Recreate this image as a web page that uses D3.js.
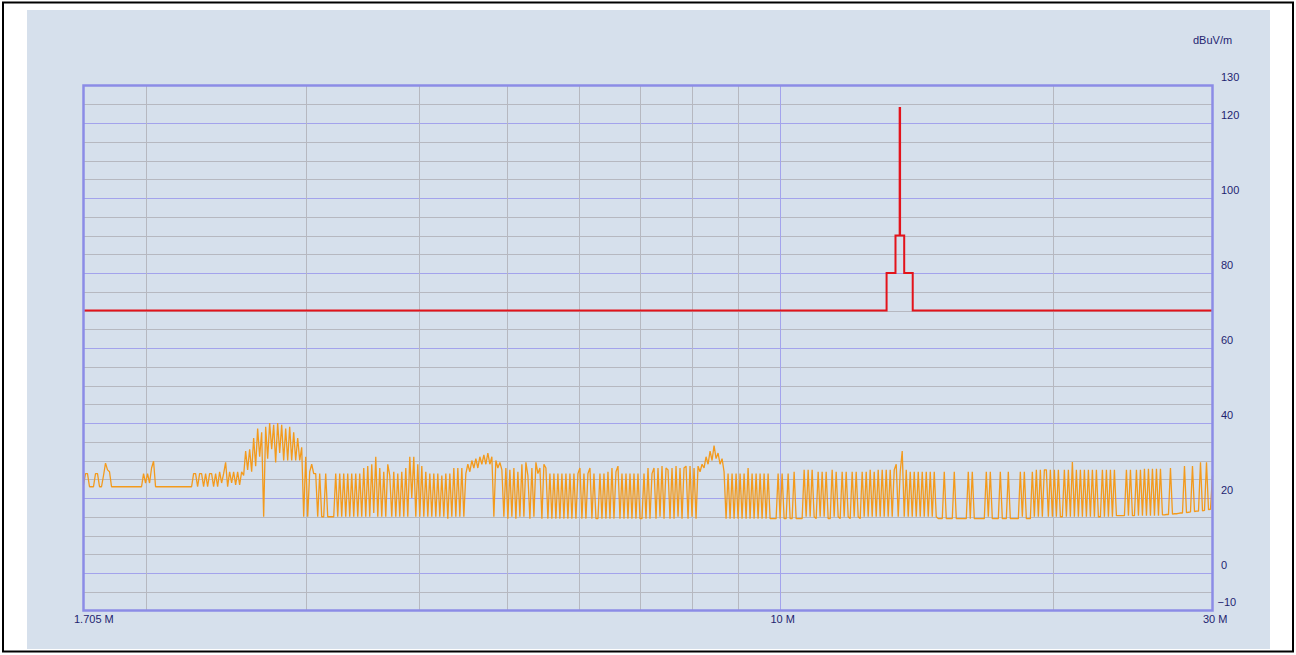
<!DOCTYPE html>
<head>
  <meta charset="utf-8">
  <script src="https://d3js.org/d3.v7.min.js"></script>
  <style>
    body {
      margin: 0;
      background: #fff;
    }

    text {
      font-family: "Liberation Sans", Arial, sans-serif;
      font-size: 11px;
      fill: #1f2470;
    }
  </style>
</head>

<body>
  <div id="chart"></div>

  <script>
    var width = 1296;
    var height = 655;

    // axis labels
    var unitLabel = "dBuV/m";
    var yTicks = [130, 120, 100, 80, 60, 40, 20, 0, -10];
    var xTicks = [1.705, 10, 30];
    var vGridGray = [2, 3, 4, 5, 6, 7, 8, 9, 20];
    var vGridBlue = [10];

    // limit line (MHz, dBuV/m)
    var limitMHz = [1.705, 13.11, 13.11, 13.41, 13.41, 13.553, 13.553, 13.567, 13.567, 13.71, 13.71, 14.01, 14.01, 30];
    var limitDb = [70, 70, 80, 80, 90, 90, 124, 124, 90, 90, 80, 80, 70, 70];

    // measured trace, one value per log-spaced sweep point 1.705 .. 30 MHz
    var traceDb = [
      23.5, 26.5, 26.5, 23, 23, 23, 26.5, 26.5, 23, 23,
      26, 29.3, 27.5, 27, 23, 23, 23, 23, 23, 23,
      23, 23, 23, 23, 23, 23, 23, 23, 23, 23,
      26.5, 24, 26.5, 24, 28, 29.8, 23, 23, 23, 23,
      23, 23, 23, 23, 23, 23, 23, 23, 23, 23,
      23, 23, 23, 23, 23, 26.5, 26.5, 23, 26.5, 26.5,
      23, 26.5, 23, 26.5, 26.5, 23, 26.5, 23, 27, 24,
      26.5, 29.5, 23, 27, 24, 27, 23.5, 27, 23.5, 27,
      26, 32.5, 27.5, 33, 27, 36, 28.5, 38.5, 31, 37.5,
      15, 39, 30.5, 40, 33, 39.5, 29.5, 40, 32, 39.5,
      30, 38.5, 30, 39, 30, 37.5, 30, 36, 30, 33.5,
      15, 31, 15, 27, 29, 26.5, 26.5, 15, 26.5, 15,
      15, 26.5, 15, 15, 15, 15, 26.5, 15, 26.5, 15,
      26.5, 15, 26.5, 15, 26.5, 15, 26.5, 15, 26.5, 15,
      28, 15, 28.5, 15, 29, 16, 31, 15, 28, 15,
      27, 15, 29, 26, 15, 27, 15, 26.5, 15, 27,
      15, 28, 15, 31, 20, 31, 15, 29, 15, 28.5,
      15, 27, 15, 26.5, 15, 26.5, 15, 26.5, 15, 26,
      15, 26.5, 14.5, 26.5, 15, 28, 15, 28, 15, 28,
      15, 26.5, 29, 27, 30, 28, 30.5, 28, 31, 29,
      31.5, 29, 32, 29, 31, 15, 30, 28, 29.5, 27.5,
      15, 28, 14.5, 27.5, 15, 28, 14.5, 27, 15, 29,
      15, 29.5, 26, 14.5, 28, 15, 29.5, 26.5, 28, 14.5,
      29, 28, 14.5, 26.5, 14.5, 26.5, 14.5, 26.5, 14.5, 26.5,
      14.5, 26.5, 14.5, 26.5, 14.5, 26.5, 14.5, 26.5, 28, 14.5,
      26.5, 14.5, 26.5, 28, 14.5, 26.5, 14.5, 14.5, 26.5, 14.5,
      26.5, 14.5, 27, 14.5, 28, 14.5, 27, 28.5, 14.5, 26.5,
      14.5, 26.5, 14.5, 26.5, 14.5, 26.5, 14.5, 26.5, 14.5, 14.5,
      26.5, 14.5, 28, 14.5, 26.5, 28, 14.5, 28, 15, 28.5,
      14.5, 28, 27.5, 14.5, 28, 14.5, 28.5, 15, 28, 14.5,
      28, 28.5, 14.5, 28.5, 15, 28, 14.5, 28.5, 27, 29,
      28, 31, 29, 32.5, 30, 34, 30.5, 32, 29, 30.5,
      27, 14.5, 26.5, 14.5, 26.5, 14.5, 26.5, 14.5, 26.5, 14.5,
      26.5, 14.5, 28, 14.5, 26.5, 14.5, 26.5, 14.5, 26.5, 14.5,
      26.5, 14.5, 26.5, 14.5, 14.5, 14.5, 14.5, 26.5, 14.5, 26.5,
      14.5, 14.5, 26.5, 14.5, 14.5, 27, 14.5, 14.5, 14.5, 14.5,
      27.5, 15, 27.5, 15, 27.5, 15, 14.5, 27, 15, 27,
      15, 27, 14.5, 14.5, 27.5, 15, 27, 15, 14.5, 27,
      15, 27, 15, 14.5, 27, 15, 27, 15, 14.5, 27,
      15, 27, 15, 27.5, 15, 27, 15, 27.5, 15, 27.5,
      15, 27.5, 15, 27.5, 15, 27.5, 29, 15, 27, 32.5,
      15, 27.5, 15, 27, 15, 27, 15, 27, 15, 27,
      15, 27, 15, 27, 15, 27, 15, 14.5, 14.5, 14.5,
      27, 14.5, 14.5, 14.5, 14.5, 27, 14.5, 14.5, 14.5, 14.5,
      14.5, 14.5, 27, 14.5, 27, 14.5, 14.5, 14.5, 14.5, 14.5,
      14.5, 27, 15, 27, 14.5, 14.5, 14.5, 14.5, 27, 14.5,
      14.5, 14.5, 27, 14.5, 14.5, 14.5, 14.5, 14.5, 27, 15,
      27, 14.5, 14.5, 14.5, 27, 15, 27.5, 15, 27.5, 15,
      27.5, 27.5, 15, 27.5, 15, 27.5, 15, 27.5, 15, 15,
      27.5, 15, 27.5, 15, 29.6, 15, 27.5, 15, 27.5, 15,
      27.5, 15, 27.5, 15, 27.5, 15, 27.5, 15, 15, 27.5,
      15, 27.5, 15, 27.5, 15, 27.5, 15.3, 15.3, 15.3, 15.3,
      15.3, 27.5, 15.3, 27.5, 15.3, 15.3, 27.5, 15.3, 27.5, 15.3,
      27.8, 15.3, 27.8, 15.3, 27.8, 15.3, 27.8, 15.3, 27.8, 15.5,
      15.5, 15.6, 15.6, 28, 15.7, 15.8, 15.8, 15.9, 16, 16,
      28.5, 16.1, 16.2, 16.3, 28.5, 16.4, 16.5, 16.5, 29.5, 16.6,
      16.7, 29.5, 16.9, 17, 26
    ];

    var plot = { left: 83.5, right: 1212.5, top: 85.5, bottom: 610.5 };

    var x = d3.scaleLog().domain([1.705, 30]).range([plot.left, plot.right]);
    var y = d3.scaleLinear().domain([-10, 130]).range([plot.bottom, plot.top]);

    var svg = d3.select("#chart").append("svg")
      .attr("width", width)
      .attr("height", height);

    // outer frame and panel
    svg.append("rect")
      .attr("x", 3).attr("y", 2.5)
      .attr("width", 1290).attr("height", 649)
      .attr("fill", "#fff")
      .attr("stroke", "#000")
      .attr("stroke-width", 2);

    svg.append("rect")
      .attr("x", 27).attr("y", 10)
      .attr("width", 1243).attr("height", 639)
      .attr("fill", "#d6e0ec");

    // GRID
    var hGrid = d3.range(-5, 130, 5);
    svg.append("g").selectAll("line")
      .data(hGrid)
      .enter().append("line")
      .attr("x1", plot.left).attr("x2", plot.right)
      .attr("y1", function(d) { return Math.round(y(d)) + 0.5; })
      .attr("y2", function(d) { return Math.round(y(d)) + 0.5; })
      .attr("stroke", function(d) { return d % 20 == 0 ? "#a3a3ec" : "#b6b8c0"; })
      .attr("stroke-width", 1);

    svg.append("g").selectAll("line")
      .data(vGridGray.concat(vGridBlue))
      .enter().append("line")
      .attr("x1", function(d) { return Math.round(x(d)) + 0.5; })
      .attr("x2", function(d) { return Math.round(x(d)) + 0.5; })
      .attr("y1", plot.top).attr("y2", plot.bottom)
      .attr("stroke", function(d) { return vGridBlue.indexOf(d) != -1 ? "#a3a3ec" : "#b6b8c0"; })
      .attr("stroke-width", 1);

    // TRACE
    var n = traceDb.length;
    var traceMHz = traceDb.map(function(d, i) {
      return 1.705 * Math.pow(30 / 1.705, i / (n - 1));
    });

    var line = d3.line()
      .x(function(d) { return x(d[0]); })
      .y(function(d) { return y(d[1]); });

    svg.append("path")
      .datum(traceDb.map(function(d, i) { return [traceMHz[i], d]; }))
      .attr("d", line)
      .attr("fill", "none")
      .attr("stroke", "#f39a1c")
      .attr("stroke-width", 1.3)
      .attr("stroke-linejoin", "bevel");

    // LIMIT
    svg.append("path")
      .datum(limitDb.map(function(d, i) { return [limitMHz[i], d]; }))
      .attr("d", line)
      .attr("fill", "none")
      .attr("stroke", "#e3131b")
      .attr("stroke-width", 2);

    // plot frame
    svg.append("rect")
      .attr("x", plot.left).attr("y", plot.top)
      .attr("width", plot.right - plot.left)
      .attr("height", plot.bottom - plot.top)
      .attr("fill", "none")
      .attr("stroke", "#8c8ce6")
      .attr("stroke-width", 2.5);

    // AXES
    svg.append("g")
      .attr("transform", "translate(" + plot.right + ",0)")
      .call(d3.axisRight(y).tickValues(yTicks).tickSize(0))
      .call(function(g) { g.select(".domain").remove(); })
      .selectAll("text")
      .attr("x", function(d) { return d < 0 ? 5 : 8.5; })
      .attr("y", -5)
      .attr("dy", 0)
      .attr("font-size", null)
      .attr("font-family", null)
      .attr("fill", null);

    svg.append("g")
      .attr("transform", "translate(0," + plot.bottom + ")")
      .call(d3.axisBottom(x).tickValues(xTicks).tickSize(0).tickFormat(function(d) { return d + " M"; }))
      .call(function(g) { g.select(".domain").remove(); })
      .selectAll("text")
      .attr("text-anchor", "start")
      .attr("x", -10)
      .attr("y", 12.5)
      .attr("dy", 0)
      .attr("font-size", null)
      .attr("font-family", null)
      .attr("fill", null);

    svg.append("text")
      .attr("x", 1193)
      .attr("y", 44)
      .text(unitLabel);
  </script>
</body>
